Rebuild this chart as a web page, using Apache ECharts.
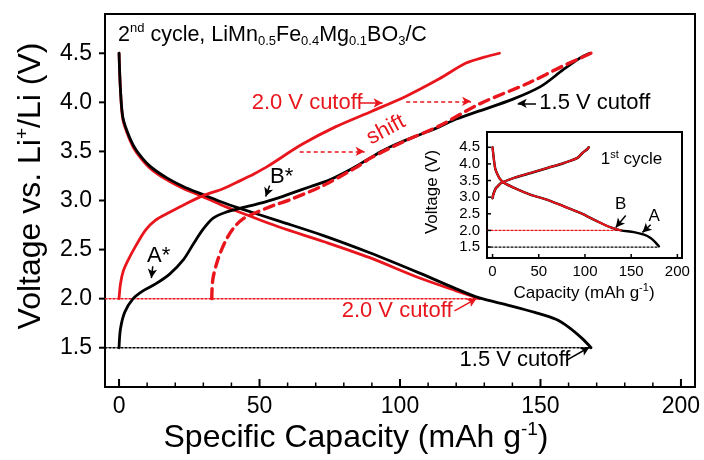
<!DOCTYPE html>
<html>
<head>
<meta charset="utf-8">
<script src="https://cdn.jsdelivr.net/npm/echarts@6/dist/echarts.min.js"></script>
<style>
  html, body { margin: 0; padding: 0; background: #fff; }
  #chart { width: 704px; height: 460px; }
</style>
</head>
<body>
<div id="chart"></div>
<script>
// ---- tick values ----
const xTicksMain = [0, 50, 100, 150, 200];
const xTicksMinor = [10, 20, 30, 40, 60, 70, 80, 90, 110, 120, 130, 140, 160, 170, 180, 190];
const yTicksMain = [1.5, 2.0, 2.5, 3.0, 3.5, 4.0, 4.5];
const xTicksInset = [0, 50, 100, 150, 200];
const yTicksInset = [1.5, 2.0, 2.5, 3.0, 3.5, 4.0, 4.5];

// ---- 2nd cycle, cycled down to 1.5 V ----
const discharge15 = [[0,4.5],[0.5,4.13],[1.4,3.84],[3.8,3.64],[6.2,3.51],[11,3.35],[17,3.23],[23,3.14],[29,3.07],[36,2.99],[43,2.92],[57,2.79],[73,2.64],[89,2.47],[107,2.26],[120,2.1],[128,2.01],[139,1.93],[148,1.86],[155.5,1.79],[160,1.71],[165,1.59],[168,1.5]];
const charge15 = [[0,1.5],[0.5,1.69],[2,1.86],[5,2.0],[8.5,2.08],[13,2.15],[18,2.25],[23,2.4],[26.5,2.56],[30,2.71],[33.5,2.82],[38,2.88],[43,2.92],[50,2.97],[57,3.03],[61,3.07],[68,3.14],[75,3.21],[82,3.31],[88,3.41],[94,3.51],[100,3.59],[107,3.67],[114,3.75],[120,3.83],[128,3.91],[140,4.03],[150,4.16],[158,4.33],[164,4.45],[167.5,4.5]];

// ---- 2nd cycle, cycled down to 2.0 V ----
const discharge20 = [[0,4.5],[0.5,4.13],[1.4,3.82],[3.8,3.62],[6.2,3.49],[11,3.33],[17,3.21],[23,3.12],[29,3.05],[36,2.96],[43,2.88],[57,2.73],[73,2.58],[89,2.42],[107,2.21],[120,2.08],[128.3,2.0]];
const charge20 = [[0,2.0],[0.5,2.15],[1.5,2.28],[3,2.38],[6,2.54],[9.5,2.7],[13,2.8],[18,2.88],[24,2.97],[30,3.05],[37,3.12],[43,3.2],[48,3.27],[53,3.35],[65,3.57],[77,3.75],[90,3.91],[102,4.06],[114,4.24],[123.5,4.4],[130,4.46],[135.4,4.5]];
const charge20Shifted = [[33,2.0],[33.4,2.2],[35.2,2.4],[37.6,2.57],[40.5,2.71],[44,2.81],[49,2.88],[55,2.95],[61,3.01],[72.5,3.15],[84,3.33],[90,3.44],[102,3.61],[114,3.76],[128,3.98],[146,4.2],[158,4.37],[168,4.5]];

// ---- cutoff guides ----
const cutoff20 = [[-5,2.0],[128.3,2.0]];
const cutoff15 = [[-5,1.5],[168,1.5]];

// ---- 1st cycle (inset) ----
const insetCharge = [[0,2.97],[1,3.1],[3.6,3.27],[5.4,3.32],[9,3.42],[23.4,3.58],[41.4,3.73],[59.5,3.88],[77.4,4.03],[91.9,4.18],[97.3,4.33],[102.7,4.45],[104,4.5]];
const insetDischarge15 = [[0,4.5],[1.7,4.08],[3,3.85],[5.4,3.68],[8,3.55],[12.6,3.43],[23.4,3.28],[41.4,3.07],[59.5,2.92],[77.4,2.72],[95.5,2.52],[113.5,2.27],[127.9,2.09],[138.7,2.0],[153,1.95],[163.9,1.87],[171,1.77],[176,1.65],[180,1.52]];
const insetDischarge20 = [[0,4.5],[1.7,4.08],[3,3.85],[5.4,3.68],[8,3.55],[12.6,3.43],[23.4,3.28],[41.4,3.07],[59.5,2.92],[77.4,2.72],[95.5,2.52],[113.5,2.27],[127.9,2.09],[138.7,2.0]];
const insetCutoff20 = [[-6,2.0],[138.7,2.0]];
const insetCutoff15 = [[-6,1.5],[180,1.5]];

// ---- annotations (data coordinates) ----
const mainNotes = [
  { text: '2.0 V cutoff', at: [47.2, 3.993], color: 'red', align: 'left' },
  { text: 'shift', at: [95.0, 3.72], color: 'red', align: 'center', rotate: 28 },
  { text: '1.5 V cutoff', at: [149.6, 3.99], color: 'black', align: 'left' },
  { text: 'B*', at: [57.9, 3.245], color: 'black', align: 'center' },
  { text: 'A*', at: [14.1, 2.44], color: 'black', align: 'center' },
  { text: '2.0 V cutoff', at: [118.7, 1.879], color: 'red', align: 'right' },
  { text: '1.5 V cutoff', at: [121.2, 1.371], color: 'black', align: 'left' }
];
const mainArrows = [
  { from: [85.6, 3.993], to: [93.8, 3.993], color: 'red', dashed: false },
  { from: [102.2, 4.01], to: [125.3, 4.01], color: 'red', dashed: true },
  { from: [64.3, 3.50], to: [87.4, 3.50], color: 'red', dashed: true },
  { from: [148.4, 3.99], to: [141.9, 3.99], color: 'black', dashed: false },
  { from: [53.6, 3.153], to: [52.2, 3.04], color: 'black', dashed: false },
  { from: [12.0, 2.33], to: [11.5, 2.21], color: 'black', dashed: false },
  { from: [119.4, 1.876], to: [127.2, 2.0], color: 'red', dashed: false },
  { from: [159.2, 1.371], to: [167.4, 1.505], color: 'black', dashed: false }
];
const insetNotes = [
  { text: '1{sup|st} cycle', at: [117.1, 4.13], color: 'black', align: 'left' },
  { text: 'B', at: [138.7, 2.79], color: 'black', align: 'center' },
  { text: 'A', at: [174.9, 2.42], color: 'black', align: 'center' }
];
const insetArrows = [
  { from: [144.1, 2.45], to: [133.3, 2.09], color: 'black', dashed: false },
  { from: [171.1, 2.17], to: [162.2, 1.94], color: 'black', dashed: false }
];

const FONT = '"Liberation Sans", Arial, Helvetica, sans-serif';
const RED = '#e8161c';
const BLACK = '#000000';
const palette = { red: RED, black: BLACK };

function richSet(small) {
  return {
    sup: { fontSize: small, fontFamily: FONT, verticalAlign: 'top', lineHeight: small + 2 },
    sub: { fontSize: small, fontFamily: FONT, verticalAlign: 'bottom', lineHeight: small + 2 }
  };
}

function curve(name, data, color, width, dash, xi, yi, z) {
  return {
    name, type: 'line', data, xAxisIndex: xi, yAxisIndex: yi,
    showSymbol: false, symbol: 'none', smooth: 0.3, z: z || 3,
    lineStyle: { color, width, type: dash || 'solid', cap: 'round', join: 'round' },
    silent: true, animation: false
  };
}

function arrowLines(list) {
  return list.map(a => [
    { coord: a.from, symbol: 'none',
      lineStyle: { color: palette[a.color], width: 1.5, type: a.dashed ? [4, 3] : 'solid' } },
    { coord: a.to, symbol: 'arrow', symbolSize: [7, 9] }
  ]);
}

function valueAxis(extra) {
  return Object.assign({
    type: 'value',
    axisLine: { show: true, onZero: false, lineStyle: { color: BLACK, width: 2 } },
    axisTick: { show: false },
    splitLine: { show: false }
  }, extra);
}

const option = {
  backgroundColor: '#fff',
  animation: false,
  grid: [
    { left: 105, top: 14, width: 590, height: 373, show: true, borderColor: BLACK, borderWidth: 2,
      backgroundColor: 'transparent', containLabel: false, outerBoundsMode: 'none' },
    { left: 487, top: 132, width: 195, height: 126, show: true, borderColor: BLACK, borderWidth: 2,
      backgroundColor: '#fff', containLabel: false, outerBoundsMode: 'none' }
  ],
  xAxis: [
    valueAxis({ gridIndex: 0, position: 'bottom', min: -5, max: 205,
      axisLabel: { customValues: xTicksMain, fontSize: 23, fontFamily: FONT, color: BLACK, margin: 8,
        formatter: v => String(v) } }),
    valueAxis({ gridIndex: 1, position: 'bottom', min: -6, max: 205,
      axisLine: { show: true, onZero: false, lineStyle: { color: BLACK, width: 1.5 } },
      axisLabel: { customValues: xTicksInset, fontSize: 15, fontFamily: FONT, color: BLACK, margin: 6,
        formatter: v => String(v) } })
  ],
  yAxis: [
    valueAxis({ gridIndex: 0, position: 'left', min: 1.1, max: 4.9,
      axisLabel: { customValues: yTicksMain, fontSize: 23, fontFamily: FONT, color: BLACK, margin: 13,
        formatter: v => v.toFixed(1) } }),
    valueAxis({ gridIndex: 1, position: 'left', min: 1.17, max: 4.96,
      axisLine: { show: true, onZero: false, lineStyle: { color: BLACK, width: 1.5 } },
      axisLabel: { customValues: yTicksInset, fontSize: 15, fontFamily: FONT, color: BLACK, margin: 7,
        formatter: v => v.toFixed(1) } })
  ],
  series: [
    Object.assign(curve('cutoff 2.0 V', cutoff20, RED, 1.5, [2, 2], 0, 0, 2), {
      smooth: false,
      markLine: { silent: true, animation: false, symbol: ['none', 'arrow'], label: { show: false },
        lineStyle: { width: 1.5 }, data: arrowLines(mainArrows) }
    }),
    Object.assign(curve('cutoff 1.5 V', cutoff15, BLACK, 1.5, [2, 2], 0, 0, 2), { smooth: false }),
    curve('discharge 2.0 V', discharge20, RED, 2.8, null, 0, 0, 3),
    curve('discharge 1.5 V', discharge15, BLACK, 2.8, null, 0, 0, 3),
    curve('charge 1.5 V', charge15, BLACK, 2.8, null, 0, 0, 3),
    curve('charge 2.0 V', charge20, RED, 2.8, null, 0, 0, 4),
    curve('charge 2.0 V shifted', charge20Shifted, RED, 3.4, [10, 6], 0, 0, 4),

    Object.assign(curve('inset cutoff 2.0 V', insetCutoff20, RED, 1.3, [2, 2], 1, 1, 6), {
      smooth: false,
      markLine: { silent: true, animation: false, symbol: ['none', 'arrow'], label: { show: false },
        lineStyle: { width: 1.5 }, data: arrowLines(insetArrows) }
    }),
    Object.assign(curve('inset cutoff 1.5 V', insetCutoff15, BLACK, 1.3, [2, 2], 1, 1, 6), { smooth: false }),
    curve('inset charge black', insetCharge, BLACK, 2.6, null, 1, 1, 7),
    curve('inset discharge 1.5 V', insetDischarge15, BLACK, 2.4, null, 1, 1, 7),
    curve('inset charge red', insetCharge, RED, 2.0, null, 1, 1, 8),
    curve('inset discharge 2.0 V', insetDischarge20, RED, 2.0, null, 1, 1, 8)
  ]
};

const chart = echarts.init(document.getElementById('chart'), null, { renderer: 'canvas' });
chart.setOption(option);

function textEl(text, x, y, size, color, align, rotateDeg, small) {
  return {
    type: 'text', x, y, rotation: (rotateDeg || 0) * Math.PI / 180, z: 100,
    style: {
      text, fill: color, fontSize: size, fontFamily: FONT,
      align, verticalAlign: 'middle', lineHeight: size + 4,
      rich: richSet(small || Math.round(size * 0.62))
    }
  };
}

function segment(x1, y1, x2, y2, w) {
  return { type: 'line', z: 50, silent: true,
    shape: { x1, y1, x2, y2 }, style: { stroke: BLACK, lineWidth: w } };
}

const graphics = [];

// tick marks: value -> pixel through each grid's axes
const toPx = (xi, yi, pt) => chart.convertToPixel({ xAxisIndex: xi, yAxisIndex: yi }, pt);
(function addTicks() {
  const mainBottom = toPx(0, 0, [0, 1.1])[1];
  const mainLeft = toPx(0, 0, [-5, 3])[0];
  xTicksMain.forEach(v => { const x = toPx(0, 0, [v, 3])[0]; graphics.push(segment(x, mainBottom, x, mainBottom - 8, 2)); });
  xTicksMinor.forEach(v => { const x = toPx(0, 0, [v, 3])[0]; graphics.push(segment(x, mainBottom, x, mainBottom - 4.5, 1.5)); });
  yTicksMain.forEach(v => { const y = toPx(0, 0, [0, v])[1]; graphics.push(segment(mainLeft - 6, y, mainLeft, y, 2)); });

  const insetBottom = toPx(1, 1, [0, 1.17])[1];
  const insetLeft = toPx(1, 1, [-6, 3])[0];
  xTicksInset.forEach(v => { const x = toPx(1, 1, [v, 3])[0]; graphics.push(segment(x, insetBottom, x, insetBottom - 4, 1.5)); });
  yTicksInset.forEach(v => { const y = toPx(1, 1, [0, v])[1]; graphics.push(segment(insetLeft, y, insetLeft + 4, y, 1.5)); });
})();

mainNotes.forEach(n => {
  const p = toPx(0, 0, n.at);
  graphics.push(textEl(n.text, p[0], p[1], 22, palette[n.color], n.align, n.rotate));
});
insetNotes.forEach(n => {
  const p = toPx(1, 1, n.at);
  graphics.push(textEl(n.text, p[0], p[1], 17, palette[n.color], n.align, n.rotate, 11));
});

// title and axis names
graphics.push(textEl('2{sup|nd} cycle, LiMn{sub|0.5}Fe{sub|0.4}Mg{sub|0.1}BO{sub|3}/C', 118, 35, 21.5, BLACK, 'left', 0, 13));
graphics.push(textEl('Specific Capacity (mAh g{sup|-1})', 356, 438, 32, BLACK, 'center', 0, 19));
graphics.push(textEl('Voltage vs. Li{sup|+}/Li (V)', 31, 186, 32, BLACK, 'center', 90, 19));
graphics.push(textEl('Capacity (mAh g{sup|-1})', 584, 293, 17, BLACK, 'center', 0, 11));
graphics.push(textEl('Voltage (V)', 432, 192, 17, BLACK, 'center', 90, 11));

chart.setOption({ graphic: graphics });
</script>
</body>
</html>
